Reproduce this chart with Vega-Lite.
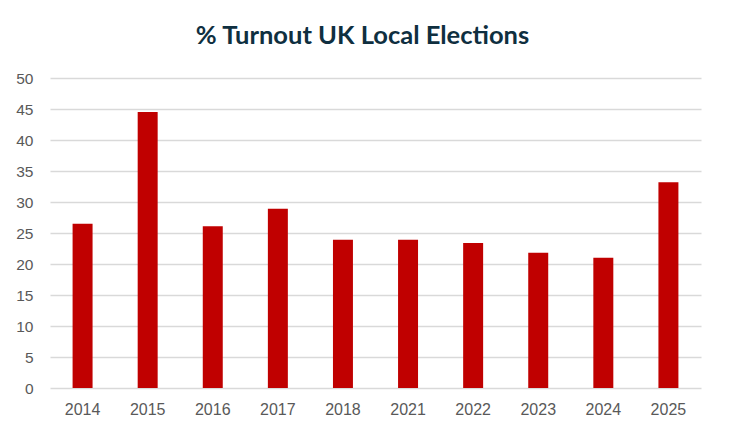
{
  "$schema": "https://vega.github.io/schema/vega-lite/v6.json",
  "autosize": {"type": "none"},
  "padding": {"left": 50, "top": 78, "right": 38, "bottom": 53},
  "width": 651,
  "height": 310,
  "background": "white",
  "title": {
    "text": "% Turnout UK Local Elections",
    "font": "Lato",
    "fontSize": 25.5,
    "fontWeight": "bold",
    "color": "#0f2f40",
    "anchor": "middle",
    "dx": -13,
    "offset": 22
  },
  "data": {
    "values": [
      {"year": "2014", "turnout": 26.5},
      {"year": "2015", "turnout": 44.5},
      {"year": "2016", "turnout": 26.1},
      {"year": "2017", "turnout": 28.9},
      {"year": "2018", "turnout": 23.9},
      {"year": "2021", "turnout": 23.9},
      {"year": "2022", "turnout": 23.4},
      {"year": "2023", "turnout": 21.8},
      {"year": "2024", "turnout": 21.0},
      {"year": "2025", "turnout": 33.2}
    ]
  },
  "mark": {"type": "bar", "color": "#c00000"},
  "encoding": {
    "x": {
      "field": "year",
      "type": "ordinal",
      "title": null,
      "scale": {"paddingInner": 0.693, "paddingOuter": 0.347},
      "axis": {
        "labelAngle": 0,
        "ticks": false,
        "domain": false,
        "labelPadding": 13,
        "labelFont": "Liberation Sans",
        "labelFontSize": 16,
        "labelColor": "#595959"
      }
    },
    "y": {
      "field": "turnout",
      "type": "quantitative",
      "title": null,
      "scale": {"domain": [0, 50]},
      "axis": {
        "values": [0, 5, 10, 15, 20, 25, 30, 35, 40, 45, 50],
        "ticks": false,
        "domain": false,
        "labelPadding": 17,
        "labelFont": "Liberation Sans",
        "labelFontSize": 15.5,
        "labelColor": "#595959",
        "gridColor": "#d9d9d9",
        "gridWidth": 1.3
      }
    }
  },
  "config": {
    "view": {"stroke": null}
  }
}
